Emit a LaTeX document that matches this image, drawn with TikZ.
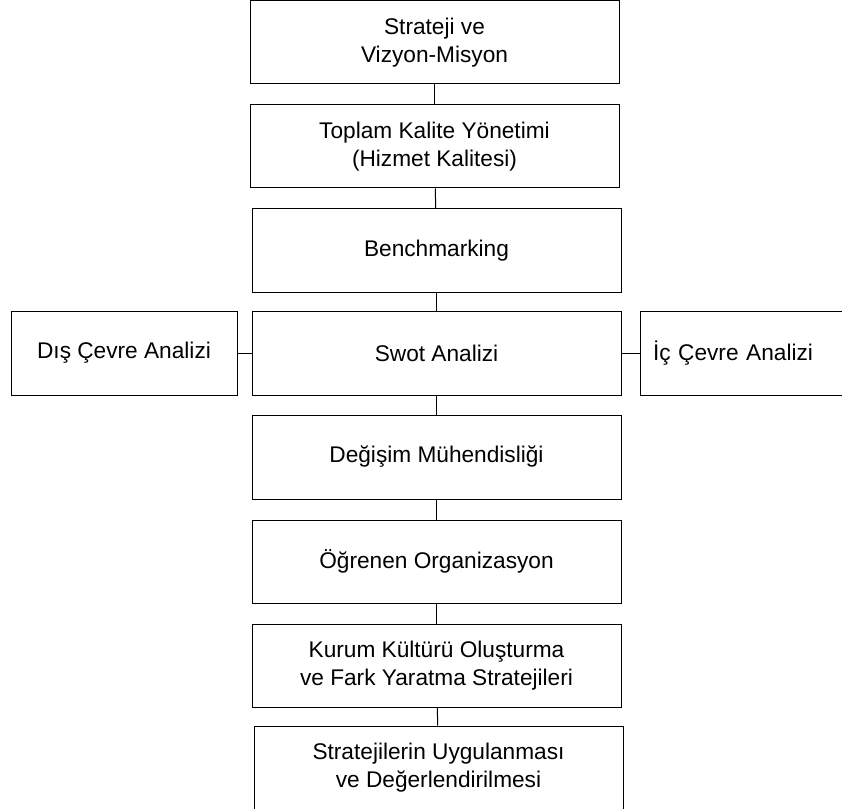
\documentclass[tikz,border=0pt]{standalone}
\usepackage{fontspec}
\setmainfont{Liberation Sans}
\begin{document}
\begin{tikzpicture}[x=0.75pt, y=-0.75pt, line width=0.75pt,
  stepbox/.style={draw, align=center, minimum width=276.75pt, minimum height=62.25pt,
    inner sep=0pt, font=\fontsize{17}{21}\selectfont},
  sidebox/.style={draw, minimum height=63pt, inner sep=0pt, font=\fontsize{17}{21}\selectfont}]
\useasboundingbox (0,0) rectangle (842,809);
\clip (0,0) rectangle (842,809);
\node[stepbox] (vizyon) at (434.5,42.5) {Strateji ve\\Vizyon-Misyon};
\node[stepbox] (tky) at (434.5,146.5) {Toplam Kalite Yönetimi\\(Hizmet Kalitesi)};
\node[stepbox] (bench) at (436.5,250.5) {Benchmarking};
\node[stepbox, minimum height=63pt] (swot) at (436.5,353) {Swot Analizi};
\node[sidebox, minimum width=169.5pt] (dis) at (124,353) {Dış Çevre Analizi};
\node[sidebox, text width=153pt, inner xsep=9.75pt, align=left] (ic) at (755,353) {İç Çevre Analizi};
\node[stepbox, minimum height=63pt] (degisim) at (436.5,457) {Değişim Mühendisliği};
\node[stepbox] (ogrenen) at (436.5,561.5) {Öğrenen Organizasyon};
\node[stepbox] (kultur) at (436.5,665.5) {Kurum Kültürü Oluşturma\\ve Fark Yaratma Stratejileri};
\node[stepbox, minimum height=63pt] (uygulama) at (438.5,768) {Stratejilerin Uygulanması\\ve Değerlendirilmesi};
\draw (vizyon) -- (tky);
\draw (tky) -- (bench);
\draw (bench) -- (swot);
\draw (swot) -- (degisim);
\draw (degisim) -- (ogrenen);
\draw (ogrenen) -- (kultur);
\draw (kultur) -- (uygulama);
\draw (dis) -- (swot);
\draw (swot) -- (ic);
\end{tikzpicture}
\end{document}
